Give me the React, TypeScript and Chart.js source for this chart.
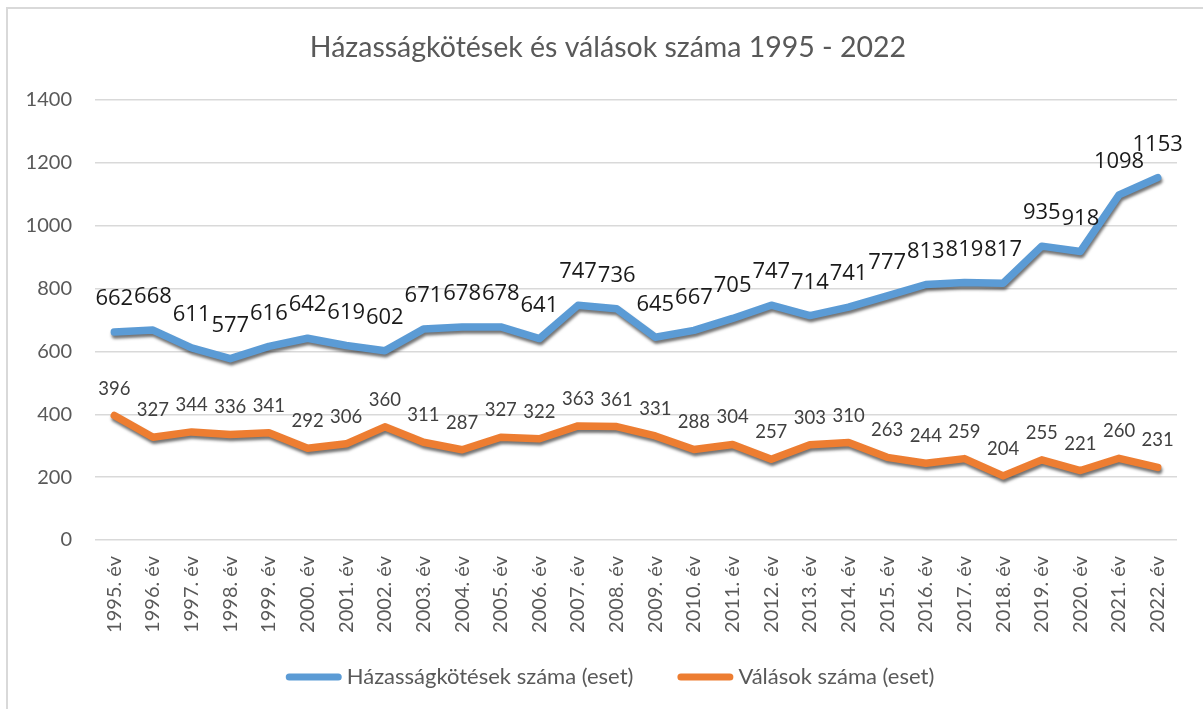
import React, { useEffect, useRef } from "react";
import { Chart, registerables } from "chart.js";
Chart.register(...registerables);

const categories = [
  "1995. év", "1996. év", "1997. év", "1998. év", "1999. év", "2000. év", "2001. év",
  "2002. év", "2003. év", "2004. év", "2005. év", "2006. év", "2007. év", "2008. év",
  "2009. év", "2010. év", "2011. év", "2012. év", "2013. év", "2014. év", "2015. év",
  "2016. év", "2017. év", "2018. év", "2019. év", "2020. év", "2021. év", "2022. év",
];
const marriages = [662, 668, 611, 577, 616, 642, 619, 602, 671, 678, 678, 641, 747, 736, 645, 667, 705, 747, 714, 741, 777, 813, 819, 817, 935, 918, 1098, 1153];
const divorces = [396, 327, 344, 336, 341, 292, 306, 360, 311, 287, 327, 322, 363, 361, 331, 288, 304, 257, 303, 310, 263, 244, 259, 204, 255, 221, 260, 231];
const yMin = 0;
const yMax = 1400;
const yStep = 200;
const chartTitle = "Házasságkötések és válások száma 1995 - 2022";
const seriesNames = ["Házasságkötések száma (eset)", "Válások száma (eset)"];
const seriesColors = ["#5B9BD5", "#ED7D31"];

export default function App() {
  const ref = useRef<HTMLCanvasElement>(null);
  useEffect(() => {
    const canvas = ref.current!;

    const framePlugin = {
      id: "frame",
      beforeDraw(chart: any) {
        const ctx = chart.ctx;
        ctx.save();
        ctx.fillStyle = "#ffffff";
        ctx.fillRect(0, 0, chart.width, chart.height);
        ctx.strokeStyle = "#d9d9d9";
        ctx.lineWidth = 2;
        ctx.beginPath();
        ctx.moveTo(7, chart.height);
        ctx.lineTo(7, 8);
        ctx.lineTo(chart.width, 8);
        ctx.stroke();
        ctx.restore();
      },
    };

    const shadowPlugin = {
      id: "lineShadow",
      beforeDatasetDraw(chart: any) {
        const ctx = chart.ctx;
        ctx.save();
        ctx.shadowColor = "rgba(0,0,0,0.55)";
        ctx.shadowOffsetX = 1;
        ctx.shadowOffsetY = 3;
        ctx.shadowBlur = 3;
      },
      afterDatasetDraw(chart: any) {
        chart.ctx.restore();
      },
    };

    const labelPlugin = {
      id: "valueLabels",
      afterDatasetsDraw(chart: any) {
        const ctx = chart.ctx;
        ctx.save();
        ctx.textAlign = "center";
        ctx.textBaseline = "middle";
        chart.data.datasets.forEach((ds: any, di: number) => {
          const meta = chart.getDatasetMeta(di);
          if (di === 0) {
            ctx.font = "22px 'Open Sans'";
            ctx.fillStyle = "#1a1a1a";
          } else {
            ctx.font = "18.5px Lato";
            ctx.fillStyle = "#404040";
          }
          const off = di === 0 ? 33 : 27;
          meta.data.forEach((pt: any, i: number) => {
            ctx.fillText(String(ds.data[i]), pt.x, pt.y - off);
          });
        });
        ctx.restore();
      },
    };

    const titleLegendPlugin = {
      id: "titleLegend",
      afterDraw(chart: any) {
        const ctx = chart.ctx;
        ctx.save();
        ctx.fillStyle = "#595959";
        ctx.textBaseline = "middle";
        ctx.textAlign = "center";
        ctx.font = "28.5px Lato";
        ctx.fillText(chartTitle, 608, 48);

        ctx.font = "22px Lato";
        ctx.textAlign = "left";
        const lineW = 56;
        const gapText = 5;
        const gapItem = 44;
        const w0 = ctx.measureText(seriesNames[0]).width;
        const w1 = ctx.measureText(seriesNames[1]).width;
        const total = lineW + gapText + w0 + gapItem + lineW + gapText + w1;
        let x = 610 - total / 2;
        const y = 677;
        [w0, w1].forEach((w, i) => {
          ctx.strokeStyle = seriesColors[i];
          ctx.lineWidth = 7;
          ctx.lineCap = "round";
          ctx.beginPath();
          ctx.moveTo(x + 3.5, y);
          ctx.lineTo(x + lineW - 3.5, y);
          ctx.stroke();
          ctx.fillStyle = "#595959";
          ctx.fillText(seriesNames[i], x + lineW + gapText, y);
          x += lineW + gapText + w + gapItem;
        });
        ctx.restore();
      },
    };

    const chart = new Chart(canvas, {
      type: "line",
      data: {
        labels: categories,
        datasets: [
          {
            label: seriesNames[0],
            data: marriages,
            borderColor: seriesColors[0],
            backgroundColor: seriesColors[0],
            borderWidth: 7.5,
            pointRadius: 0,
            tension: 0,
            borderJoinStyle: "round",
            borderCapStyle: "round",
          },
          {
            label: seriesNames[1],
            data: divorces,
            borderColor: seriesColors[1],
            backgroundColor: seriesColors[1],
            borderWidth: 7.5,
            pointRadius: 0,
            tension: 0,
            borderJoinStyle: "round",
            borderCapStyle: "round",
          },
        ],
      },
      options: {
        responsive: false,
        animation: false,
        layout: { padding: { top: 100, right: 26, bottom: 0, left: 0 } },
        plugins: {
          legend: { display: false },
          title: { display: false },
          tooltip: { enabled: false },
        },
        scales: {
          x: {
            offset: true,
            grid: { display: false, drawTicks: false },
            border: { display: false },
            ticks: {
              minRotation: 90,
              maxRotation: 90,
              autoSkip: false,
              padding: 16,
              color: "#595959",
              font: { family: "Lato", size: 20 },
            },
            afterFit: (s: any) => {
              s.height = 169;
            },
          },
          y: {
            min: yMin,
            max: yMax,
            ticks: {
              stepSize: yStep,
              padding: 23,
              color: "#595959",
              font: { family: "Lato", size: 20 },
              callback: (v: any) => String(v),
            },
            grid: { color: "#d9d9d9", lineWidth: 1.5, drawTicks: false },
            border: { display: false },
            afterFit: (s: any) => {
              s.width = 95;
            },
          },
        },
      },
      plugins: [framePlugin, shadowPlugin, labelPlugin, titleLegendPlugin],
    } as any);
    return () => chart.destroy();
  }, []);
  return (
    <div style={{ position: "fixed", left: 0, top: 0, width: 1203, height: 709, background: "#fff" }}>
      <canvas ref={ref} width={1203} height={709} style={{ display: "block" }} />
    </div>
  );
}
